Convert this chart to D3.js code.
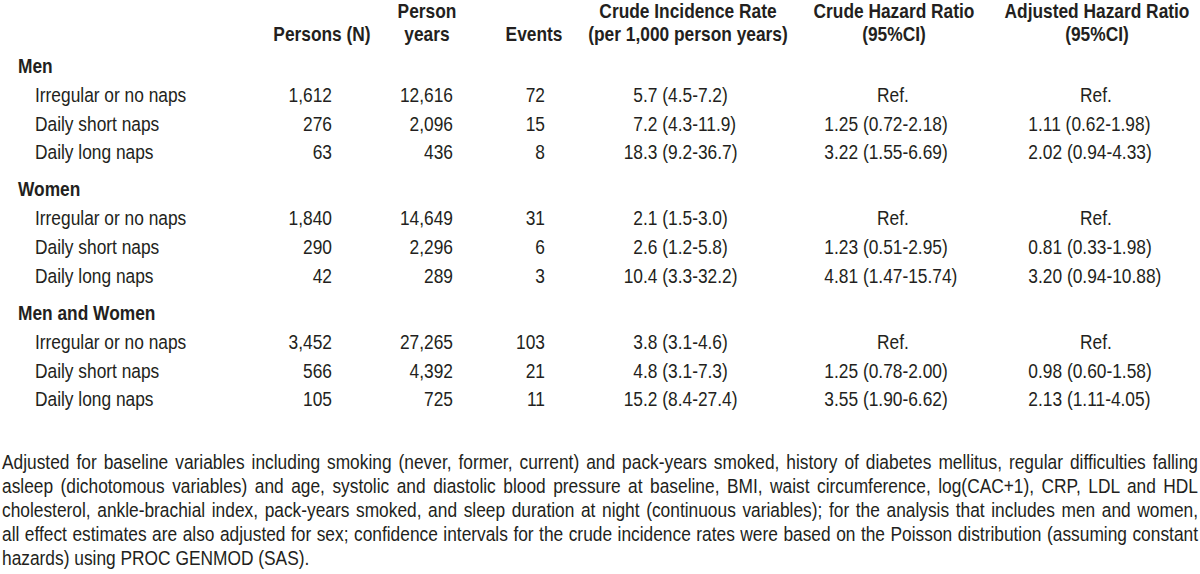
<!DOCTYPE html>
<html>
<head>
<meta charset="utf-8">
<script src="https://cdn.jsdelivr.net/npm/d3@7"></script>
<style>
  body { margin: 0; background: #fff; }
  svg text { font-family: "Liberation Sans Narrow", "Arial Narrow", "Liberation Sans", Arial, sans-serif; fill: #231f20; }
  .bold { font-weight: bold; }
</style>
</head>
<body>
<svg id="table" width="1200" height="574"></svg>
<script>
// table data
var groups = ["Men", "Women", "Men and Women"];
var categories = ["Irregular or no naps", "Daily short naps", "Daily long naps"];

var persons     = [[1612, 276, 63], [1840, 290, 42], [3452, 566, 105]];
var personYears = [[12616, 2096, 436], [14649, 2296, 289], [27265, 4392, 725]];
var events      = [[72, 15, 8], [31, 6, 3], [103, 21, 11]];

// crude incidence rate [rate, lo, hi]
var incidence = [
    [[5.7, 4.5, 7.2], [7.2, 4.3, 11.9], [18.3, 9.2, 36.7]],
    [[2.1, 1.5, 3.0], [2.6, 1.2, 5.8], [10.4, 3.3, 32.2]],
    [[3.8, 3.1, 4.6], [4.8, 3.1, 7.3], [15.2, 8.4, 27.4]]
];
// hazard ratios [hr, lo, hi], null = reference
var crudeHR = [
    [null, [1.25, 0.72, 2.18], [3.22, 1.55, 6.69]],
    [null, [1.23, 0.51, 2.95], [4.81, 1.47, 15.74]],
    [null, [1.25, 0.78, 2.00], [3.55, 1.90, 6.62]]
];
var adjHR = [
    [null, [1.11, 0.62, 1.98], [2.02, 0.94, 4.33]],
    [null, [0.81, 0.33, 1.98], [3.20, 0.94, 10.88]],
    [null, [0.98, 0.60, 1.58], [2.13, 1.11, 4.05]]
];

var headers = [
    { lines: ["Persons (N)"], x: 322 },
    { lines: ["Person", "years"], x: 427 },
    { lines: ["Events"], x: 534 },
    { lines: ["Crude Incidence Rate", "(per 1,000 person years)"], x: 688 },
    { lines: ["Crude Hazard Ratio", "(95%CI)"], x: 894 },
    { lines: ["Adjusted Hazard Ratio", "(95%CI)"], x: 1097 }
];

var footnote = [
    "Adjusted for baseline variables including smoking (never, former, current) and pack-years smoked, history of diabetes mellitus, regular difficulties falling",
    "asleep (dichotomous variables) and age, systolic and diastolic blood pressure at baseline, BMI, waist circumference, log(CAC+1), CRP, LDL and HDL",
    "cholesterol, ankle-brachial index, pack-years smoked, and sleep duration at night (continuous variables); for the analysis that includes men and women,",
    "all effect estimates are also adjusted for sex; confidence intervals for the crude incidence rates were based on the Poisson distribution (assuming constant",
    "hazards) using PROC GENMOD (SAS)."
];

var fontSize = 19.5;
var sx = 0.89;   // the original type is a condensed face, squeeze it a bit

var svg = d3.select("#table");
var root = svg.append("g").attr("transform", "scale(" + sx + ",1)");

var fmtInt = d3.format(",");
var f1 = d3.format(".1f");
var f2 = d3.format(".2f");

// vertical scale: each group = 1 title row + 3 category rows
var groupY = d3.scaleLinear().domain([0, 2]).range([73, 320]);
var rowStep = 28.8;

function label(g, x, y, str, anchor) {
    return g.append("text")
        .attr("x", x / sx)
        .attr("y", y)
        .attr("text-anchor", anchor || "start")
        .attr("font-size", fontSize)
        .text(str);
}

// headers
headers.forEach(function (h) {
    var t = root.append("text")
        .attr("class", "bold")
        .attr("text-anchor", "middle")
        .attr("font-size", fontSize);
    var first = h.lines.length == 2 ? 18 : 41;
    h.lines.forEach(function (line, i) {
        t.append("tspan").attr("x", h.x / sx).attr("y", first + i * 23).text(line);
    });
});

// decimal aligned value: integer part ends at x, rest starts at x
function decimalText(g, x, y, str) {
    var dot = str.indexOf(".");
    label(g, x, y, str.slice(0, dot), "end");
    label(g, x, y, str.slice(dot), "start");
}

groups.forEach(function (group, gi) {
    var gy = groupY(gi);
    var g = root.append("g");

    label(g, 18, gy, group).attr("class", "bold");

    categories.forEach(function (cat, ci) {
        var y = gy + (ci + 1) * rowStep;

        label(g, 35, y, cat);
        label(g, 332, y, fmtInt(persons[gi][ci]), "end");
        label(g, 453, y, fmtInt(personYears[gi][ci]), "end");
        label(g, 545, y, events[gi][ci], "end");

        var ir = incidence[gi][ci];
        decimalText(g, 643, y, f1(ir[0]) + " (" + f1(ir[1]) + "-" + f1(ir[2]) + ")");

        [[crudeHR, 834, 893], [adjHR, 1038, 1096]].forEach(function (c) {
            var v = c[0][gi][ci];
            if (v == null) {
                label(g, c[2], y, "Ref.", "middle");
            } else {
                decimalText(g, c[1], y, f2(v[0]) + " (" + f2(v[1]) + "-" + f2(v[2]) + ")");
            }
        });
    });
});

// justified footnote
var noteLeft = 2, noteRight = 1198;
footnote.forEach(function (line, i) {
    var t = label(root, noteLeft, 469 + i * 24, line);
    if (i < footnote.length - 1) {
        var w = t.node().getComputedTextLength();
        var gaps = line.split(" ").length - 1;
        t.style("word-spacing", (((noteRight - noteLeft) / sx - w) / gaps) + "px");
    }
});
</script>
</body>
</html>
